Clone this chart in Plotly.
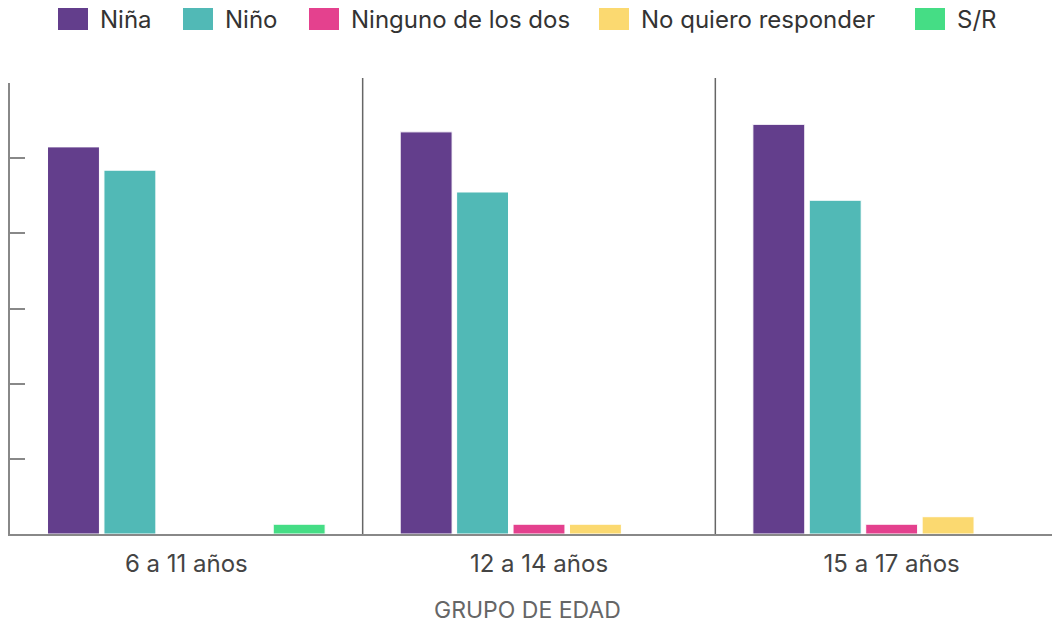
import plotly.graph_objects as go

categories = ["6 a 11 años", "12 a 14 años", "15 a 17 años"]
series_names = ["Niña", "Niño", "Ninguno de los dos", "No quiero responder", "S/R"]
nina = [51.5, 53.5, 54.5]
nino = [48.4, 45.5, 44.4]
ninguno = [0, 1.3, 1.3]
no_quiero = [0, 1.3, 2.3]
sr = [1.3, 0, 0]
colors = ["#633e8c", "#51b9b6", "#e4418e", "#fbd970", "#45dd85"]
x_title = "GRUPO DE EDAD"

series_values = [nina, nino, ninguno, no_quiero, sr]

OFF = 8  # page body margin
W, H = 1060, 624
ML, MR, MT, MB = 2, 0, 75, 98
PW = W - ML - MR
PH = H - MT - MB
FONT = "Inter"

fig = go.Figure()
for name, vals, col in zip(series_names, series_values, colors):
    fig.add_trace(go.Bar(
        x=categories, y=vals, name=name,
        marker=dict(color=col, line=dict(color="white", width=1)),
        showlegend=False,
    ))

def px_x(px):
    return (px - OFF - ML) / PW

def px_y(py):
    return (OFF + H - MB - py) / PH

# custom legend (large swatches)
legend_swatch_x = [58, 183, 309, 599, 915]
shapes = []
annotations = []
for name, col, sx in zip(series_names, colors, legend_swatch_x):
    shapes.append(dict(type="rect", xref="paper", yref="paper",
                       x0=px_x(sx), x1=px_x(sx + 30), y0=px_y(30), y1=px_y(7),
                       fillcolor=col, line=dict(width=0)))
    annotations.append(dict(xref="paper", yref="paper", x=px_x(sx + 40), y=px_y(19),
                            text=name, showarrow=False, xanchor="left", yanchor="middle",
                            font=dict(family=FONT, size=24, color="#333333")))

# axis title
annotations.append(dict(xref="paper", yref="paper", x=px_x(527), y=px_y(610),
                        text=x_title, showarrow=False, xanchor="center", yanchor="middle",
                        font=dict(family=FONT, size=23, color="#666666")))

# category separators
for xb in [0.5, 1.5]:
    shapes.append(dict(type="line", xref="x", yref="paper", x0=xb, x1=xb,
                       y0=0, y1=px_y(78), line=dict(color="#666666", width=1.5)))

fig.update_layout(
    width=W, height=H,
    margin=dict(l=ML, r=MR, t=MT, b=MB),
    paper_bgcolor="white", plot_bgcolor="white",
    barmode="group", bargap=0.2, bargroupgap=0.08,
    shapes=shapes, annotations=annotations,
    font=dict(family=FONT, color="#444444"),
    xaxis=dict(
        showline=True, linecolor="#888888", linewidth=2,
        ticks="", showgrid=False,
        tickfont=dict(family=FONT, size=24, color="#444444"),
        ticklabelstandoff=7,
    ),
    yaxis=dict(
        range=[0, 60], dtick=10, showticklabels=False,
        showline=True, linecolor="#888888", linewidth=2,
        ticks="inside", ticklen=15, tickcolor="#888888", tickwidth=2,
        showgrid=False, zeroline=False,
    ),
)

fig.write_html("out.html")
